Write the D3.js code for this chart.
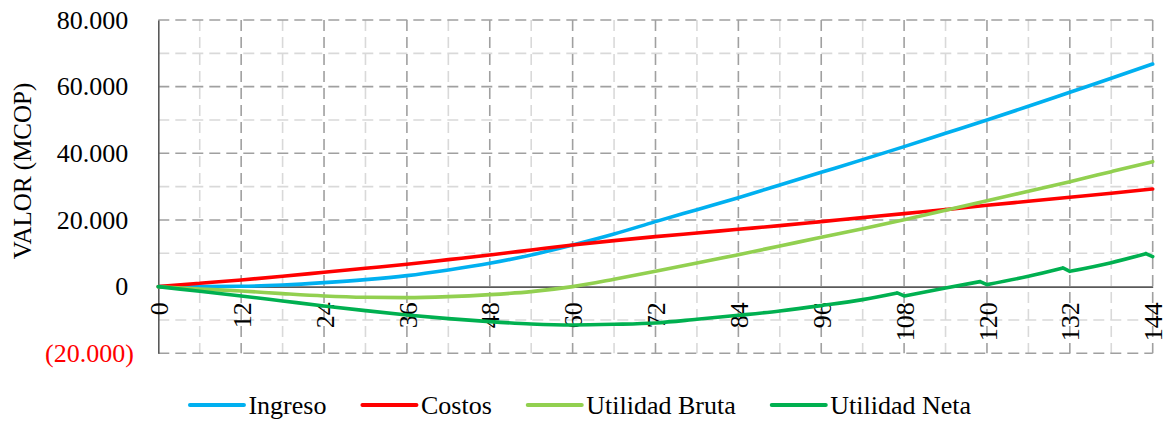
<!DOCTYPE html>
<html>
<head>
<meta charset="utf-8">
<script src="https://cdn.jsdelivr.net/npm/d3@7"></script>
<style>
  html, body { margin: 0; padding: 0; background: #ffffff; }
  svg { display: block; }
  svg text { font-family: "Liberation Serif", "Times New Roman", serif; }
</style>
</head>
<body>
<svg id="chart" width="1167" height="422"></svg>
<script>
// Months (x values) sampled every half year
const months = [0, 6, 12, 18, 24, 30, 36, 42, 48, 54, 60, 66, 72, 78, 84, 90, 96, 102, 108, 114, 120, 126, 132, 138, 144];

// Values in MCOP
const ingreso = [0, 0, 100, 500, 1200, 2100, 3300, 5000, 7000, 9500, 12500, 15800, 19500, 23100, 26700, 30500, 34300, 38100, 42000, 46000, 50000, 54100, 58300, 62500, 66800];
const costos  = [0, 1000, 2000, 3100, 4300, 5500, 6700, 8100, 9500, 11000, 12500, 13800, 15000, 16100, 17200, 18300, 19500, 20700, 21900, 23100, 24400, 25600, 26800, 28000, 29300];
const utilidadBruta = [0, -700, -1300, -2100, -2800, -3200, -3300, -3000, -2400, -1500, 0, 2200, 4600, 7100, 9600, 12200, 14800, 17400, 20100, 22900, 25800, 28600, 31500, 34500, 37500];

// Net profit has a yearly step from month 108 on, so it carries its own months
const netaMonths = [0, 6, 12, 18, 24, 30, 36, 42, 48, 54, 60, 66, 72, 78, 84, 90, 96, 102, 107, 108, 114, 119, 120, 126, 131, 132, 138, 143, 144];
const utilidadNeta = [0, -1400, -2800, -4300, -5800, -7200, -8500, -9600, -10500, -11200, -11500, -11300, -10900, -9800, -8600, -7300, -5700, -3900, -1900, -2800, -400, 1500, 600, 3100, 5600, 4600, 7200, 9900, 9000];
// Months where the net profit steps down (curve pieces break there)
const netaBreaks = [107, 108, 119, 120, 131, 132, 143, 144];

const seriesNames  = ["Ingreso", "Costos", "Utilidad Bruta", "Utilidad Neta"];
const seriesColors = ["#00B0F0", "#FF0000", "#92D050", "#00B050"];

const xTicks = [0, 12, 24, 36, 48, 60, 72, 84, 96, 108, 120, 132, 144];
const xMinor = [6, 18, 30, 42, 54, 66, 78, 90, 102, 114, 126, 138];
const yTicks = [-20000, 0, 20000, 40000, 60000, 80000];
const yTickLabels = ["(20.000)", "0", "20.000", "40.000", "60.000", "80.000"];
const yMinor = [-10000, 10000, 30000, 50000, 70000];
const yTitle = "VALOR (MCOP)";

const FONT = "Liberation Serif, Times New Roman, serif";
const svg = d3.select("#chart");

const x = d3.scaleLinear().domain([0, 144]).range([158.3, 1152.7]);
const y = d3.scaleLinear().domain([-20000, 80000]).range([353.3, 20]);

const [xl, xr] = x.range();
const [yb, yt] = y.range();

// Gridlines: light minor lines first, darker major lines on top
const grid = svg.append("g").attr("fill", "none");
const dash = "11,6";

grid.append("g").selectAll("line").data(yMinor).join("line")
  .attr("x1", xl).attr("x2", xr)
  .attr("y1", d => y(d)).attr("y2", d => y(d))
  .attr("stroke", "#d9d9d9").attr("stroke-width", 1.6).attr("stroke-dasharray", dash);

grid.append("g").selectAll("line").data(xMinor).join("line")
  .attr("x1", d => x(d)).attr("x2", d => x(d))
  .attr("y1", yt).attr("y2", yb)
  .attr("stroke", "#d9d9d9").attr("stroke-width", 1.6).attr("stroke-dasharray", dash);

grid.append("g").selectAll("line").data(xTicks.filter(d => d !== 0)).join("line")
  .attr("x1", d => x(d)).attr("x2", d => x(d))
  .attr("y1", yt).attr("y2", yb)
  .attr("stroke", "#a0a0a0").attr("stroke-width", 1.6).attr("stroke-dasharray", dash);

grid.append("g").selectAll("line").data(yTicks.filter(d => d !== 0)).join("line")
  .attr("x1", xl).attr("x2", xr)
  .attr("y1", d => y(d)).attr("y2", d => y(d))
  .attr("stroke", "#a0a0a0").attr("stroke-width", 1.6).attr("stroke-dasharray", dash);

// Y axis
const yAxis = svg.append("g")
  .attr("transform", `translate(${xl},0)`)
  .call(d3.axisLeft(y).tickValues(yTicks).tickFormat((d, i) => yTickLabels[i]).tickSize(0).tickSizeOuter(0).tickPadding(30));
yAxis.select(".domain").attr("stroke", "#595959").attr("stroke-width", 1.6);
yAxis.selectAll("text")
  .attr("font-family", FONT)
  .attr("font-size", 26)
  .attr("fill", d => d < 0 ? "#FF0000" : "#000000")
  .attr("dx", d => d < 0 ? 5.5 : 0);

// X axis along the zero line, labels turned upright
const xAxis = svg.append("g")
  .attr("transform", `translate(0,${y(0)})`)
  .call(d3.axisBottom(x).tickValues(xTicks).tickFormat(d3.format("d")).tickSize(0).tickSizeOuter(0));
xAxis.select(".domain").attr("stroke", "#595959").attr("stroke-width", 1.6);
xAxis.selectAll("text")
  .attr("font-family", FONT)
  .attr("font-size", 26)
  .attr("fill", "#000000")
  .attr("text-anchor", "end")
  .attr("transform", "rotate(-90)")
  .attr("x", -15.5)
  .attr("y", 0)
  .attr("dy", "0.35em");

// Axis title
svg.append("text")
  .attr("transform", "translate(22.5,171) rotate(-90)")
  .attr("text-anchor", "middle")
  .attr("dy", "0.35em")
  .attr("font-family", FONT)
  .attr("font-size", 25)
  .attr("fill", "#000000")
  .text(yTitle);

// Series lines
const line = d3.line()
  .x(d => x(d[0]))
  .y(d => y(d[1]))
  .curve(d3.curveMonotoneX);

const toPoints = (xs, ys) => xs.map((m, i) => [m, ys[i]]);

// Split a series into smooth pieces joined at the break months
function piecewisePath(points, breaks) {
  const pieces = [];
  let current = [];
  points.forEach(p => {
    current.push(p);
    if (breaks.includes(p[0]) && current.length > 1) {
      pieces.push(current);
      current = [p];
    }
  });
  if (current.length > 1) pieces.push(current);
  return pieces.map(line).join("");
}

const seriesPaths = [
  line(toPoints(months, ingreso)),
  line(toPoints(months, costos)),
  line(toPoints(months, utilidadBruta)),
  piecewisePath(toPoints(netaMonths, utilidadNeta), netaBreaks)
];

svg.append("g").selectAll("path").data(seriesPaths).join("path")
  .attr("d", d => d)
  .attr("fill", "none")
  .attr("stroke", (d, i) => seriesColors[i])
  .attr("stroke-width", 3.6)
  .attr("stroke-linejoin", "round")
  .attr("stroke-linecap", "round");

// Legend, centered under the chart
const legend = svg.append("g");
const legendY = 405;
const swatch = 54, swatchGap = 4.5, itemGap = 36;
const items = legend.selectAll("g").data(seriesNames).join("g");
items.append("line")
  .attr("x1", 0).attr("x2", swatch)
  .attr("y1", 0).attr("y2", 0)
  .attr("stroke", (d, i) => seriesColors[i])
  .attr("stroke-width", 4)
  .attr("stroke-linecap", "round");
items.append("text")
  .attr("x", swatch + swatchGap)
  .attr("y", 0)
  .attr("dy", "0.33em")
  .attr("font-family", FONT)
  .attr("font-size", 26)
  .attr("fill", "#000000")
  .text(d => d);

const widths = [];
items.each(function () {
  widths.push(swatch + swatchGap + d3.select(this).select("text").node().getComputedTextLength());
});
const total = d3.sum(widths) + itemGap * (widths.length - 1);
let cursor = 580.5 - total / 2;
items.attr("transform", (d, i) => {
  const t = `translate(${cursor},${legendY})`;
  cursor += widths[i] + itemGap;
  return t;
});
</script>
</body>
</html>
